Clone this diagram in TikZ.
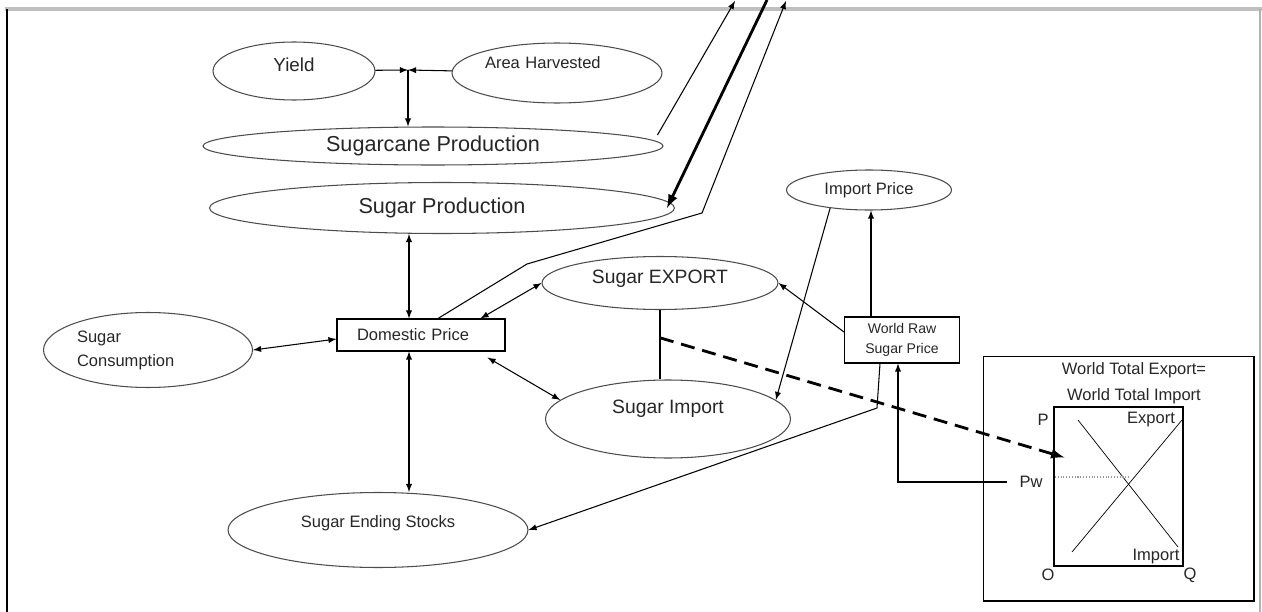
\documentclass[tikz,border=0pt]{standalone}
\usepackage{fontspec}
\setmainfont{Liberation Sans}
\usetikzlibrary{shapes.geometric}

\begin{document}
\begin{tikzpicture}[x=0.02cm,y=-0.02cm,>=latex,semithick,
  every node/.style={text=black!85},
  oval/.style={ellipse, draw=black!70, inner sep=0pt, font=\fontsize{9.4}{13.6}\selectfont},
  bigoval/.style={oval, font=\fontsize{12.3}{14}\selectfont},
  midoval/.style={oval, font=\fontsize{11}{13}\selectfont},
  pbox/.style={rectangle, draw, inner sep=0pt, font=\fontsize{9.4}{13}\selectfont},
  tag/.style={inner sep=0pt, font=\fontsize{9.4}{14.7}\selectfont}]
\useasboundingbox (0,0) rectangle (1262,612);
% frame
\draw[black!25, line width=2pt] (5,9) -- (1262,9);
\draw[line width=1.2pt] (7,9) -- (7,612);
\draw[black!30, line width=0.8pt] (1260,9) -- (1260,612);

% production side
\node[oval, minimum width=3.24cm, minimum height=1.16cm, text depth=0.24cm, font=\fontsize{10.7}{13}\selectfont] at (294,71) (yield) {Yield};
\node[oval, minimum width=4.2cm, minimum height=1.2cm, text width=2.88cm, align=left, text depth=0.4cm] at (557,73) (area) {Area Harvested};
\node[bigoval, minimum width=9.2cm, minimum height=0.76cm] at (433,146) (cane) {Sugarcane Production};
\node[bigoval, minimum width=9.3cm, minimum height=1.02cm] at (442,208) (sugar) {Sugar Production};
\coordinate (jn) at (408,70);
\coordinate (topA) at (735,1);
\coordinate (topB) at (767,0);
\coordinate (topC) at (786,1);

% domestic side
\node[pbox, minimum width=3.36cm, minimum height=0.64cm, text width=2.56cm, align=left] at (421,335) (dom) {Domestic Price};
\node[oval, minimum width=4.18cm, minimum height=1.5cm, text width=2.84cm, align=left] at (148,350) (cons) {Sugar\\Consumption};
\node[midoval, minimum width=4.72cm, minimum height=1.06cm, text depth=0.24cm] at (660,283) (export) {Sugar EXPORT};
\node[midoval, minimum width=4.9cm, minimum height=1.56cm, text depth=0.48cm] at (668,419) (import) {Sugar Import};
\node[oval, minimum width=6cm, minimum height=1.5cm, text depth=0.32cm] at (378,530) (stocks) {Sugar Ending Stocks};

% world side
\node[oval, minimum width=3.3cm, minimum height=0.8cm] at (869,190) (iprice) {Import Price};
\node[pbox, minimum width=2.3cm, minimum height=0.92cm, align=center, font=\fontsize{8}{11.3}\selectfont] at (902,340) (world) {World Raw\\Sugar Price};
\node[pbox, minimum width=5.42cm, minimum height=4.9cm] at (1118.5,478.5) (wbox) {};
\node[pbox, minimum width=2.58cm, minimum height=3.18cm] at (1118.5,486.5) (pq) {};
\node[tag, align=center] at (1134,383) (wtitle) {World Total Export=\\World Total Import};
\node[tag] at (1043,420) (p) {P};
\node[tag] at (1031,482) (pw) {Pw};
\node[tag] at (1048,575) (o) {O};
\node[tag] at (1190,575) (q) {Q};
\node[tag] at (1151,420) (exl) {Export};
\node[tag] at (1156,557) (iml) {Import};

% supply and demand lines
\draw[thin] (1072,552) -- (1182,420);
\draw[thin] (1078,420) -- (1178,547);
\draw[black!40, densely dotted] (1055,477) -- (1130,477);

% links
\draw[->] (yield) -- (jn);
\draw[->] (area) -- (jn);
\draw[->] (jn) -- (jn |- cane.north);
\draw[->] ([shift={(-6,-11)}]cane.east) -- (topA);
\draw[->, line width=1.6pt] (topB) -- ([shift={(-8,0)}]sugar.east);
\draw[->] ([shift={(17,0)}]dom.north) -- (527,264) -- (702,213) -- (topC);
\draw[<->] ([shift={(-12,0)}]dom.north) -- ([shift={(-12,0)}]dom.north |- sugar.south);
\draw[<->] ([shift={(-12,0)}]dom.south) -- ([shift={(-12,0)}]dom.south |- stocks.north);
\draw[<->] (cons.east) -- ([shift={(0,4)}]dom.west);
\draw[<->] ([shift={(-25,0)}]dom.north east) -- (export.west);
\draw[<->] ([shift={(-18,6)}]dom.south east) -- (import.170);
\draw (export.south) -- coordinate[pos=0.4] (dstart) (export.south |- import.north);
\draw[->, line width=1.6pt, dash pattern=on 8pt off 4.5pt] (dstart) -- ([shift={(11,-29)}]pq.west);
\draw[->] ([shift={(0,-8)}]world.west) -- (export.east);
\draw[->] ([shift={(-31,0)}]world.north) -- ([shift={(-31,0)}]world.north |- iprice.south);
\draw[->] (iprice.205) -- (import.10);
\draw[->] ([shift={(-22,0)}]world.south) -- (877,408) -- (stocks.east);
\draw[->] ([shift={(-12,0)}]pw.west) -| ([shift={(-4,0)}]world.south);
\end{tikzpicture}
\end{document}
